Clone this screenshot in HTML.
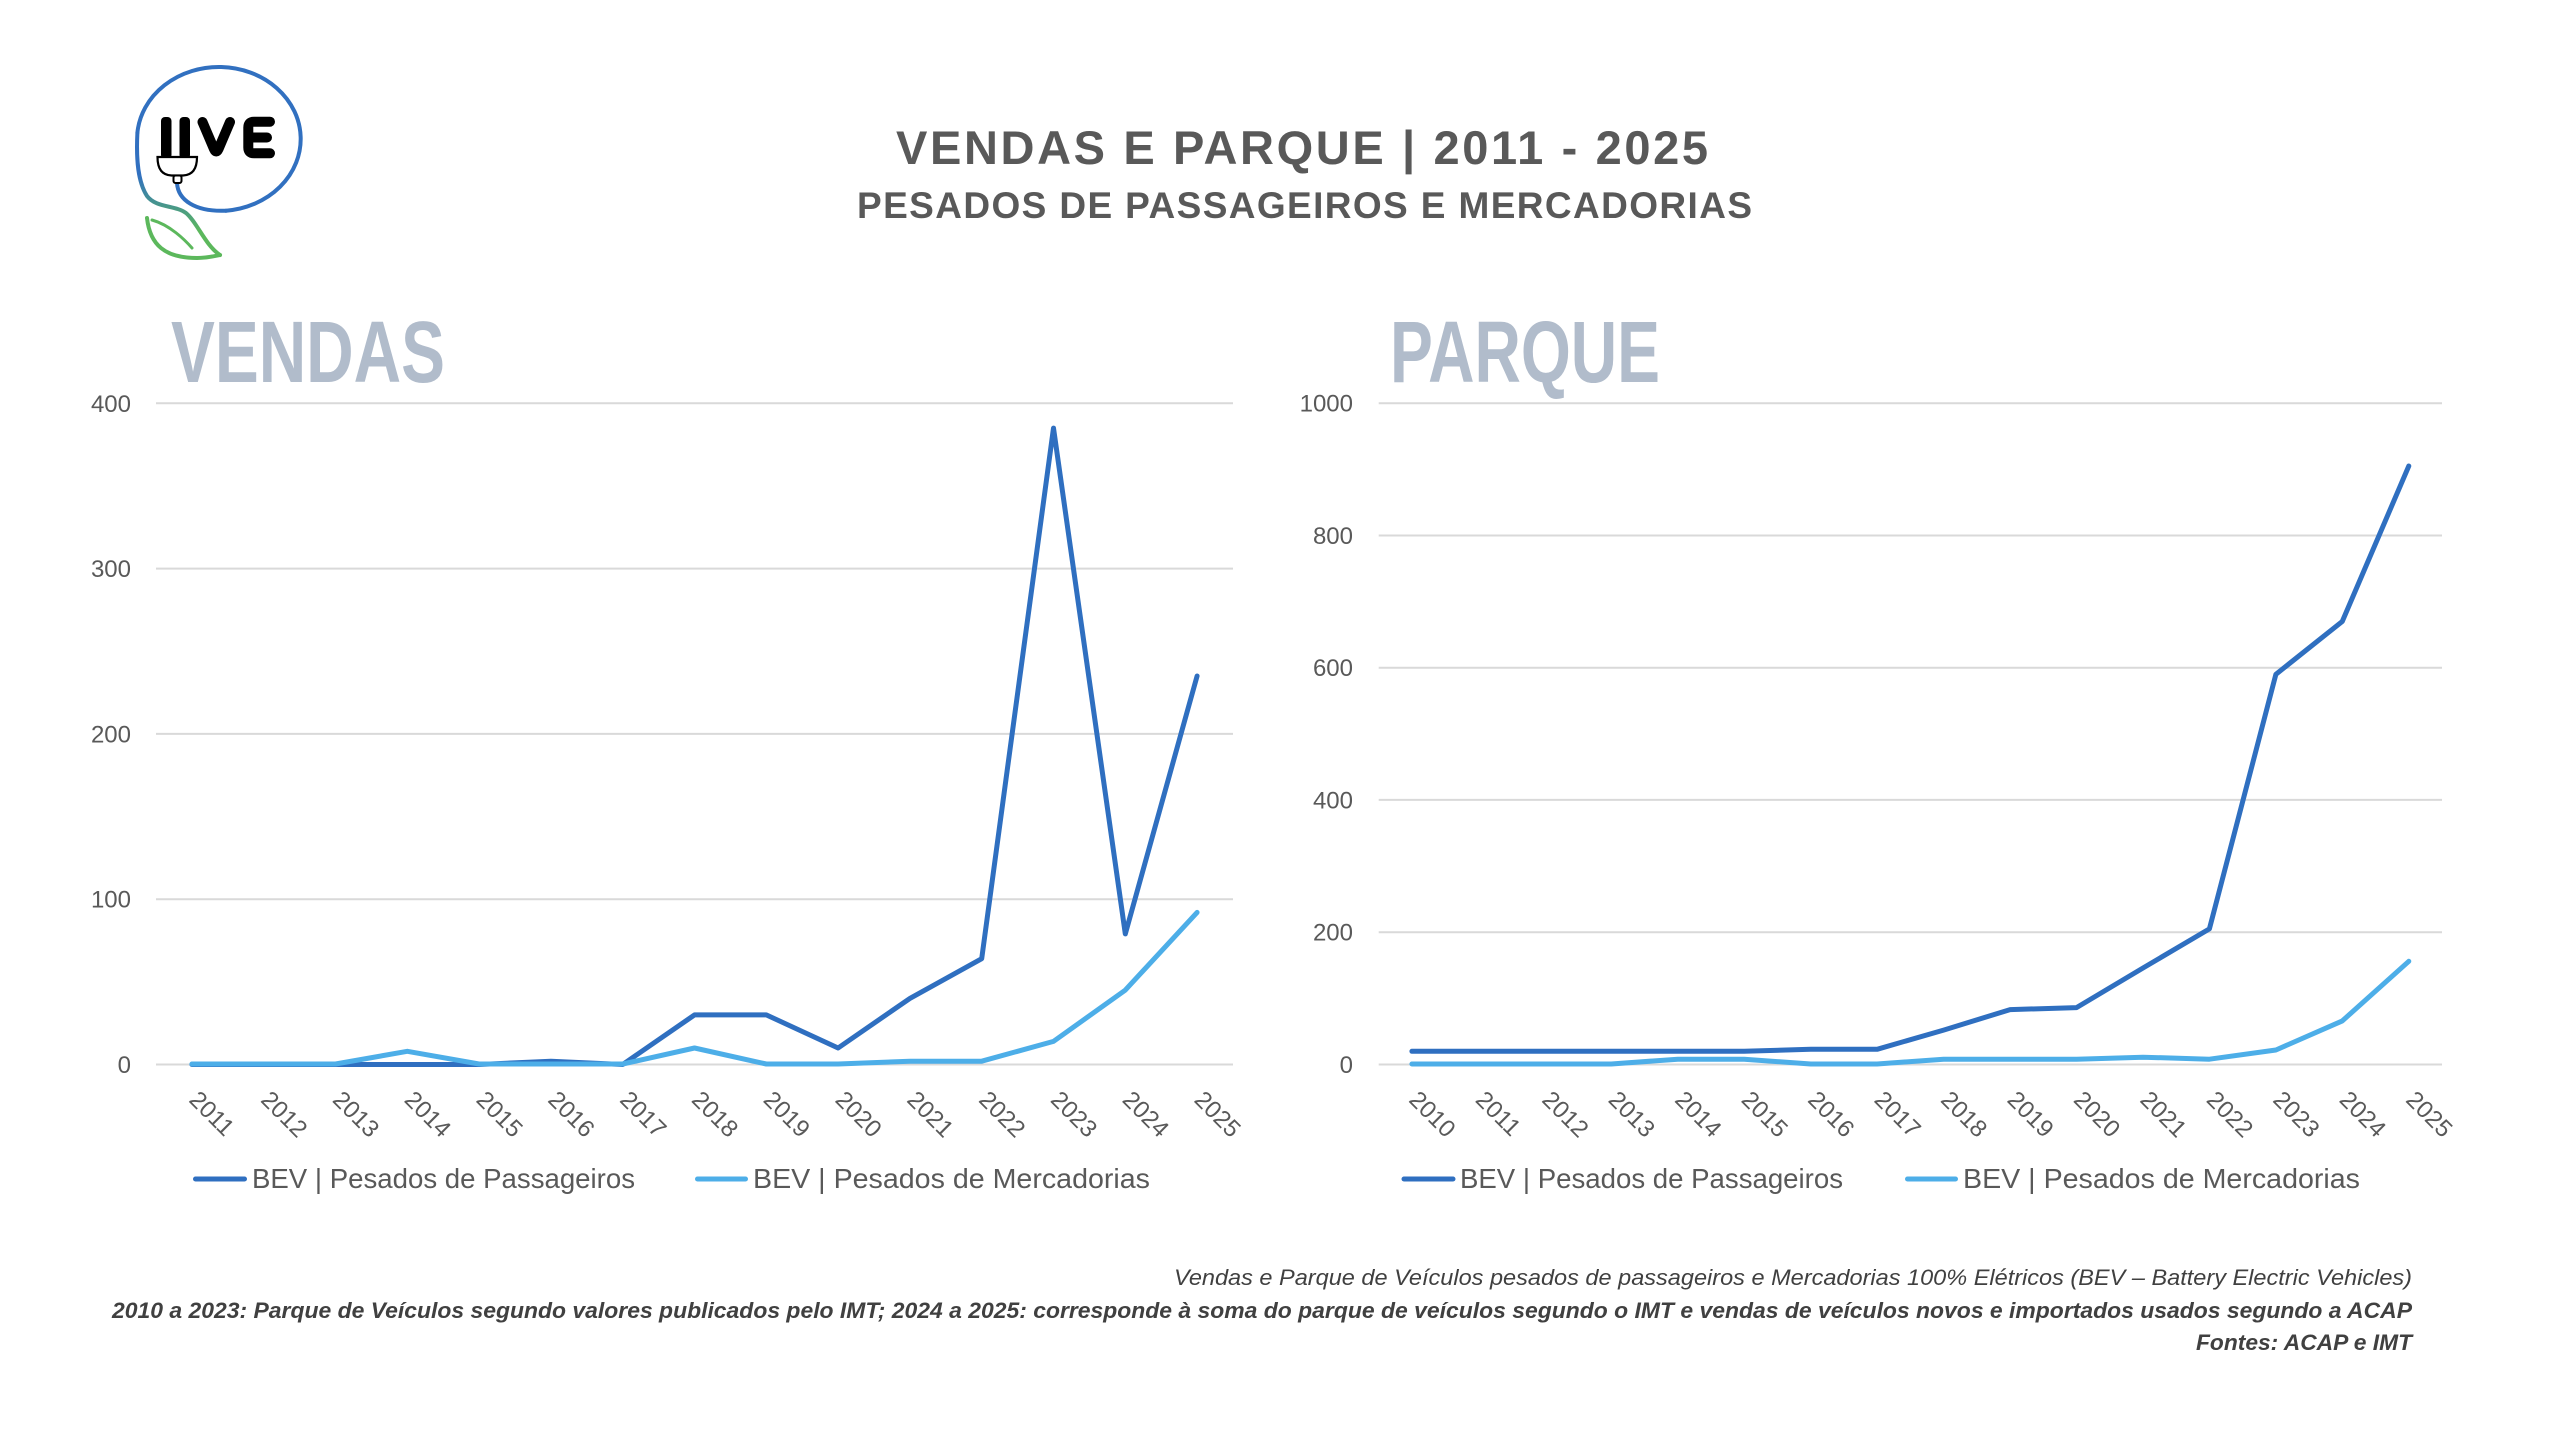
<!DOCTYPE html>
<html>
<head>
<meta charset="utf-8">
<style>
  html,body{margin:0;padding:0;background:#ffffff;}
  svg{display:block;}
  text{font-family:"Liberation Sans", Arial, sans-serif;}
</style>
</head>
<body>
<svg width="2560" height="1430" viewBox="0 0 2560 1430" xmlns="http://www.w3.org/2000/svg">
  <defs>
    <linearGradient id="lg" x1="0" y1="175" x2="0" y2="232" gradientUnits="userSpaceOnUse">
      <stop offset="0" stop-color="#3170c0"/>
      <stop offset="1" stop-color="#5cb85c"/>
    </linearGradient>
  </defs>
  <rect width="2560" height="1430" fill="#ffffff"/>

  <!-- Logo -->
  <g fill="none" stroke-linecap="round" stroke-linejoin="round">
    <path d="M 226 210.7 A 81.8 72 0 1 0 137.4 132.7" stroke="#3170c0" stroke-width="4"/>
    <path d="M 137.4 132.7 C 136 160 138 182 147 196 C 156 208 175 205 186 213 C 197 222 205 245 220 255" stroke="url(#lg)" stroke-width="4"/>
    <path d="M 177 183 C 178 200 195 212 226 210.7" stroke="#3170c0" stroke-width="4"/>
    <path d="M 147 218 C 150 245 165 258 197 258 C 207 258 215 256 220 255" stroke="#5cb85c" stroke-width="4"/>
    <path d="M 152 220 C 170 225 185 240 192 248" stroke="#5cb85c" stroke-width="3"/>
  </g>
  <rect x="161" y="117" width="10.5" height="42" rx="4" fill="#000"/>
  <rect x="179.5" y="117" width="10.5" height="42" rx="4" fill="#000"/>
  <path d="M 157.5 157 L 197 157 Q 197 175 183 175.5 L 171.5 175.5 Q 157.5 175 157.5 157 Z" fill="#fff" stroke="#000" stroke-width="2.2"/>
  <rect x="173.5" y="175.5" width="8" height="7.5" rx="2" fill="#fff" stroke="#000" stroke-width="2"/>
  <g fill="none" stroke="#000" stroke-width="10" stroke-linecap="round" stroke-linejoin="round">
    <path d="M 202.5 122 L 214 149 Q 216.2 154 218.5 149 L 230 122"/>
    <path d="M 270 121.7 L 254 121.7 Q 248.3 121.7 248.3 127.5 L 248.3 147.5 Q 248.3 153.3 254 153.3 L 270 153.3 M 248.3 137.5 L 267 137.5"/>
  </g>

  <!-- Titles -->
  <text x="896" y="164" font-size="47" font-weight="bold" fill="#595959" textLength="812" lengthAdjust="spacing">VENDAS E PARQUE | 2011 - 2025</text>
  <text x="857" y="218" font-size="37" font-weight="bold" fill="#595959" textLength="895" lengthAdjust="spacing">PESADOS DE PASSAGEIROS E MERCADORIAS</text>

  <text x="171" y="382" font-size="87" font-weight="bold" fill="#b1bccb" textLength="274" lengthAdjust="spacingAndGlyphs">VENDAS</text>
  <text x="1390" y="382" font-size="87" font-weight="bold" fill="#b1bccb" textLength="270" lengthAdjust="spacingAndGlyphs">PARQUE</text>

  <!-- LEFT CHART -->
  <g stroke="#d9d9d9" stroke-width="2">
    <line x1="156" y1="403.3" x2="1233" y2="403.3"/>
    <line x1="156" y1="568.6" x2="1233" y2="568.6"/>
    <line x1="156" y1="733.9" x2="1233" y2="733.9"/>
    <line x1="156" y1="899.2" x2="1233" y2="899.2"/>
    <line x1="156" y1="1064.5" x2="1233" y2="1064.5"/>
  </g>
  <g font-size="24" fill="#595959" text-anchor="end">
    <text x="131" y="412">400</text>
    <text x="131" y="577">300</text>
    <text x="131" y="742.5">200</text>
    <text x="131" y="907.7">100</text>
    <text x="131" y="1073">0</text>
  </g>
  <g font-size="24" fill="#595959">
    <text transform="translate(188,1101) rotate(45)">2011</text>
    <text transform="translate(259.7,1101) rotate(45)">2012</text>
    <text transform="translate(331.5,1101) rotate(45)">2013</text>
    <text transform="translate(403.3,1101) rotate(45)">2014</text>
    <text transform="translate(475.1,1101) rotate(45)">2015</text>
    <text transform="translate(546.9,1101) rotate(45)">2016</text>
    <text transform="translate(618.7,1101) rotate(45)">2017</text>
    <text transform="translate(690.5,1101) rotate(45)">2018</text>
    <text transform="translate(762.3,1101) rotate(45)">2019</text>
    <text transform="translate(834.1,1101) rotate(45)">2020</text>
    <text transform="translate(905.9,1101) rotate(45)">2021</text>
    <text transform="translate(977.7,1101) rotate(45)">2022</text>
    <text transform="translate(1049.5,1101) rotate(45)">2023</text>
    <text transform="translate(1121.3,1101) rotate(45)">2024</text>
    <text transform="translate(1193.1,1101) rotate(45)">2025</text>
  </g>
  <g fill="none" stroke-width="5" stroke-linejoin="round" stroke-linecap="round">
    <polyline stroke="#2f6fc0" points="191.9,1064.5 263.7,1064.5 335.5,1064.5 407.3,1064.5 479.1,1064.5 550.9,1061.2 622.7,1064.5 694.5,1014.9 766.3,1014.9 838.1,1048.0 909.9,998.4 981.7,958.7 1053.5,428.1 1125.3,933.9 1197.1,676.0"/>
    <polyline stroke="#4daee8" points="191.9,1064 263.7,1064 335.5,1064 407.3,1051.3 479.1,1064 550.9,1064 622.7,1064 694.5,1048.0 766.3,1064 838.1,1064 909.9,1061.2 981.7,1061.2 1053.5,1041.4 1125.3,990.1 1197.1,912.4"/>
  </g>
  <!-- left legend -->
  <line x1="195.5" y1="1179" x2="244.5" y2="1179" stroke="#2f6fc0" stroke-width="5" stroke-linecap="round"/>
  <text x="252" y="1188" font-size="28" fill="#595959" textLength="383" lengthAdjust="spacingAndGlyphs">BEV | Pesados de Passageiros</text>
  <line x1="697.5" y1="1179" x2="745.5" y2="1179" stroke="#4daee8" stroke-width="5" stroke-linecap="round"/>
  <text x="753" y="1188" font-size="28" fill="#595959" textLength="397" lengthAdjust="spacingAndGlyphs">BEV | Pesados de Mercadorias</text>

  <!-- RIGHT CHART -->
  <g stroke="#d9d9d9" stroke-width="2">
    <line x1="1378.7" y1="403.2" x2="2442" y2="403.2"/>
    <line x1="1378.7" y1="535.5" x2="2442" y2="535.5"/>
    <line x1="1378.7" y1="667.7" x2="2442" y2="667.7"/>
    <line x1="1378.7" y1="799.9" x2="2442" y2="799.9"/>
    <line x1="1378.7" y1="932.2" x2="2442" y2="932.2"/>
    <line x1="1378.7" y1="1064.5" x2="2442" y2="1064.5"/>
  </g>
  <g font-size="24" fill="#595959" text-anchor="end">
    <text x="1353" y="411.7">1000</text>
    <text x="1353" y="544">800</text>
    <text x="1353" y="676.2">600</text>
    <text x="1353" y="808.4">400</text>
    <text x="1353" y="940.7">200</text>
    <text x="1353" y="1073">0</text>
  </g>
  <g font-size="24" fill="#595959">
    <text transform="translate(1407.9,1101) rotate(45)">2010</text>
    <text transform="translate(1474.4,1101) rotate(45)">2011</text>
    <text transform="translate(1540.9,1101) rotate(45)">2012</text>
    <text transform="translate(1607.3,1101) rotate(45)">2013</text>
    <text transform="translate(1673.8,1101) rotate(45)">2014</text>
    <text transform="translate(1740.2,1101) rotate(45)">2015</text>
    <text transform="translate(1806.7,1101) rotate(45)">2016</text>
    <text transform="translate(1873.1,1101) rotate(45)">2017</text>
    <text transform="translate(1939.6,1101) rotate(45)">2018</text>
    <text transform="translate(2006.1,1101) rotate(45)">2019</text>
    <text transform="translate(2072.5,1101) rotate(45)">2020</text>
    <text transform="translate(2139,1101) rotate(45)">2021</text>
    <text transform="translate(2205.4,1101) rotate(45)">2022</text>
    <text transform="translate(2271.9,1101) rotate(45)">2023</text>
    <text transform="translate(2338.3,1101) rotate(45)">2024</text>
    <text transform="translate(2404.8,1101) rotate(45)">2025</text>
  </g>
  <g fill="none" stroke-width="5" stroke-linejoin="round" stroke-linecap="round">
    <polyline stroke="#2f6fc0" points="1411.9,1051.3 1478.4,1051.3 1544.9,1051.3 1611.3,1051.3 1677.8,1051.3 1744.2,1051.3 1810.7,1049.3 1877.1,1049.3 1943.6,1030.1 2010.1,1009.6 2076.5,1007.6 2143.0,968.0 2209.4,928.9 2275.9,674.3 2342.3,621.4 2408.8,466.0"/>
    <polyline stroke="#4daee8" points="1411.9,1064 1478.4,1064 1544.9,1064 1611.3,1064 1677.8,1059.2 1744.2,1059.2 1810.7,1064 1877.1,1064 1943.6,1059.2 2010.1,1059.2 2076.5,1059.2 2143.0,1057.2 2209.4,1059.2 2275.9,1050.0 2342.3,1020.9 2408.8,961.3"/>
  </g>
  <!-- right legend -->
  <line x1="1404" y1="1179" x2="1453" y2="1179" stroke="#2f6fc0" stroke-width="5" stroke-linecap="round"/>
  <text x="1460" y="1188" font-size="28" fill="#595959" textLength="383" lengthAdjust="spacingAndGlyphs">BEV | Pesados de Passageiros</text>
  <line x1="1907.5" y1="1179" x2="1955.5" y2="1179" stroke="#4daee8" stroke-width="5" stroke-linecap="round"/>
  <text x="1963" y="1188" font-size="28" fill="#595959" textLength="397" lengthAdjust="spacingAndGlyphs">BEV | Pesados de Mercadorias</text>

  <!-- Footer -->
  <text x="1174" y="1285" font-size="22" font-style="italic" fill="#404040" textLength="1238" lengthAdjust="spacingAndGlyphs">Vendas e Parque de Veículos pesados de passageiros e Mercadorias 100% Elétricos (BEV – Battery Electric Vehicles)</text>
  <text x="112" y="1318" font-size="22" font-style="italic" font-weight="bold" fill="#404040" textLength="2300" lengthAdjust="spacingAndGlyphs">2010 a 2023: Parque de Veículos segundo valores publicados pelo IMT; 2024 a 2025: corresponde à soma do parque de veículos segundo o IMT e vendas de veículos novos e importados usados segundo a ACAP</text>
  <text x="2196" y="1350" font-size="22" font-style="italic" font-weight="bold" fill="#404040" textLength="216" lengthAdjust="spacingAndGlyphs">Fontes: ACAP e IMT</text>
</svg>
</body>
</html>
